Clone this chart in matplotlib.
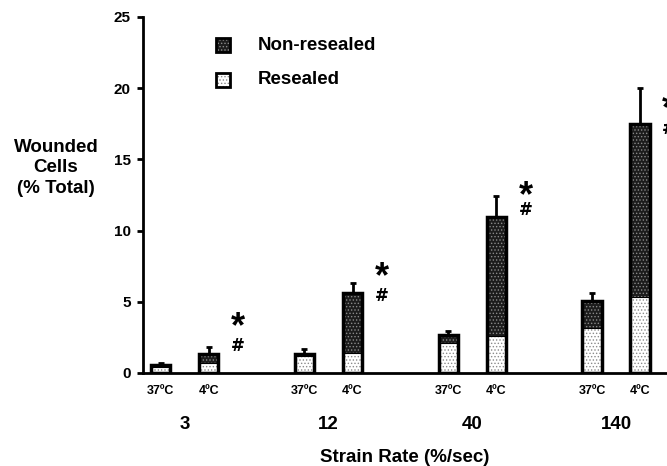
import numpy as np
import matplotlib
matplotlib.use("Agg")
import matplotlib.pyplot as plt
from matplotlib.patches import Rectangle

plt.rcParams['font.family'] = ['Liberation Sans', 'DejaVu Sans']
plt.rcParams['font.weight'] = 'bold'
plt.rcParams['hatch.linewidth'] = 0.6

# --- data ---
strain_rates = ['3', '12', '40', '140']
temps = ['37ºC', '4ºC']
resealed_37 = [0.45, 1.2, 2.1, 3.15]
nonresealed_37 = [0.1, 0.1, 0.55, 1.9]
err_37 = [0.15, 0.35, 0.3, 0.55]
resealed_4 = [0.7, 1.4, 2.6, 5.35]
nonresealed_4 = [0.63, 4.2, 8.35, 12.15]
err_4 = [0.5, 0.7, 1.45, 2.5]
star_y = [3.2, 6.7, 12.35, 18.5]    # '*' marks
hash_y = [1.9, 5.4, 11.45, 17.1]    # '#' marks

DARK = '#1c1c1c'
DOTS = '#8a8a8a'

fig = plt.figure(figsize=(6.67, 4.66), dpi=100)
ax = fig.add_axes([0.2144, 0.1996, 0.7856, 0.764])

x = np.arange(len(strain_rates))
off = 0.167
w = 0.135

for xs, res, non, err in [(x - off, resealed_37, nonresealed_37, err_37),
                          (x + off, resealed_4, nonresealed_4, err_4)]:
    res = np.array(res)
    non = np.array(non)
    ax.bar(xs, res, w, color='white', edgecolor=DOTS, hatch='.....', linewidth=0, zorder=2)
    ax.bar(xs, non, w, bottom=res, color=DARK, edgecolor=DOTS, hatch='.....', linewidth=0, zorder=2)
    ax.bar(xs, res + non, w, fill=False, edgecolor='black', linewidth=2.5, zorder=3)
    ax.bar(xs, res, w, fill=False, edgecolor='black', linewidth=0.8, zorder=3)
    ax.errorbar(xs, res + non, yerr=[np.zeros_like(res), np.array(err)], fmt='none',
                ecolor='black', elinewidth=2, capsize=2, capthick=2, zorder=1)

for xi, sy, hy in zip(x, star_y, hash_y):
    ax.text(xi + 0.37, sy, '*', fontsize=26, ha='center', va='center')
    ax.text(xi + 0.37, hy, '#', fontsize=12, ha='center', va='center',
            family='DejaVu Sans')

ax.set_xlim(-0.29, 3.354)
ax.set_ylim(0, 25)
ax.set_yticks([0, 5, 10, 15, 20, 25])
ax.tick_params(axis='y', direction='out', length=4, width=2, labelsize=11, pad=5)
ax.set_xticks([])
for s in ['top', 'right']:
    ax.spines[s].set_visible(False)
for s in ['left', 'bottom']:
    ax.spines[s].set_linewidth(2)

for xi in x:
    for dx, t in zip([-off, off], temps):
        ax.text(xi + dx, -1.26, t, fontsize=9, ha='center', va='center')
    ax.text(xi, -3.6, strain_rates[xi], fontsize=13.5, ha='center', va='center')

ax.text(0.5, -0.236, 'Strain Rate (%/sec)', transform=ax.transAxes, ha='center',
        va='center', fontsize=13.5)
fig.text(0.084, 0.6395, 'Wounded\nCells\n(% Total)', ha='center', va='center',
         fontsize=13.5, linespacing=1.25)

# legend drawn by hand: squares plus labels
sq_w, sq_h = 14 / 524, 14 / 356
for yc, fc, label in [(0.921, DARK, 'Non-resealed'), (0.823, 'white', 'Resealed')]:
    ax.add_patch(Rectangle((0.139, yc - sq_h / 2), sq_w, sq_h, transform=ax.transAxes,
                           facecolor=fc, edgecolor=DOTS, hatch='.....', linewidth=0,
                           clip_on=False))
    ax.add_patch(Rectangle((0.139, yc - sq_h / 2), sq_w, sq_h, transform=ax.transAxes,
                           fill=False, edgecolor='black', linewidth=2, clip_on=False))
    ax.text(0.2195, yc, label, transform=ax.transAxes, fontsize=13.5, va='center', ha='left')

fig.savefig('out.png', dpi=100)
